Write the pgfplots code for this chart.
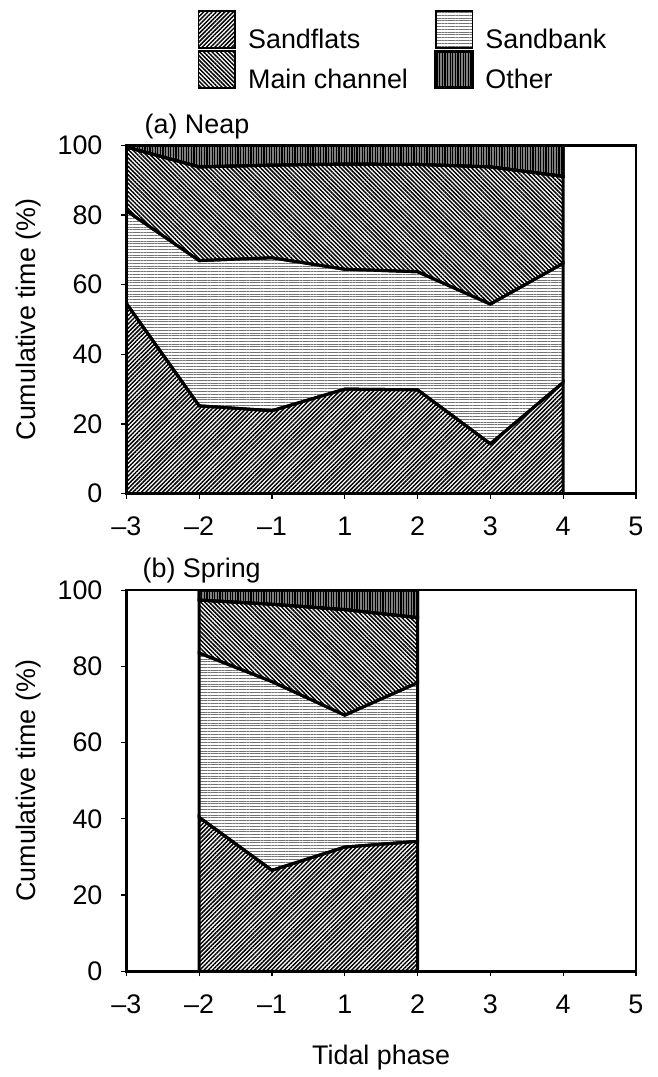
\documentclass[border=0pt]{standalone}
\usepackage{fontspec}
\setmainfont{Liberation Sans}
\usepackage{pgfplots}
\pgfplotsset{compat=1.18}
\usetikzlibrary{patterns.meta}

% phases -3..5 (no 0) are plotted at 0..7
\pgfplotsset{
  tidal/.style={
    width=256pt, scale only axis,
    xmin=0, xmax=7, ymin=0, ymax=100,
    xtick={0,...,7},
    xticklabels={\textendash3,\textendash2,\textendash1,1,2,3,4,5},
    ytick={0,20,...,100},
    tick align=outside, xtick pos=bottom, ytick pos=left,
    major tick length=2.5pt,
    every tick/.style={black, line width=0.6pt},
    axis line style={line width=1.3pt},
    /pgf/number format/assume math mode=true,
    xticklabel style={yshift=-5pt, text height=10pt, text depth=0pt},
    yticklabel style={xshift=-6pt},
    ylabel={Cumulative time (\%)},
    ylabel style={at={(axis description cs:-0.193,0.5)}, anchor=center},
    stack plots=y,
  },
  sandflats/.style={draw=black, line width=1.5pt,
    pattern={Lines[angle=45,distance=1.5pt,line width=0.75pt]}},
  sandbank/.style={draw=black, line width=1.5pt, pattern color=black!55,
    pattern={Lines[angle=0,distance=1.4pt,line width=0.45pt]}},
  channel/.style={draw=black, line width=1.5pt,
    pattern={Lines[angle=-45,distance=1.5pt,line width=0.75pt]}},
  other/.style={draw=black, line width=1.5pt, preaction={fill=black!50},
    pattern={Lines[angle=90,distance=1.3pt,line width=0.6pt]}},
}

\begin{document}
\begin{tikzpicture}[font=\fontsize{13.5}{16}\selectfont]

\begin{axis}[tidal, name=top, height=175pt, at={(0,240pt)},
  legend columns=2,
  legend cell align=left,
  legend style={at={(axis description cs:0.139,1.389)}, anchor=north west,
    draw=none, fill=none, inner sep=0pt, row sep=-2.5pt,
    /tikz/every odd column/.append style={column sep=4pt},
    /tikz/every even column/.append style={column sep=11.5pt}},
  legend image code/.code={\draw[#1, line width=0.9pt] (0pt,-4pt) rectangle (18.5pt,14.5pt);},
]
\addplot[sandflats] coordinates {(0,54.6) (1,25.2) (2,23.8) (3,30.0) (4,29.8) (5,14.3) (6,31.9)} \closedcycle;
\addplot[sandbank] coordinates {(0,26.6) (1,41.7) (2,43.9) (3,34.4) (4,33.9) (5,40.1) (6,34.2)} \closedcycle;
\addplot[channel] coordinates {(0,18.3) (1,26.9) (2,26.6) (3,30.2) (4,30.8) (5,39.4) (6,25.0)} \closedcycle;
\addplot[other] coordinates {(0,0.5) (1,6.2) (2,5.7) (3,5.4) (4,5.5) (5,6.2) (6,8.9)} \closedcycle;
\legend{Sandflats, Sandbank, Main channel, Other}
\end{axis}

\begin{axis}[tidal, name=bot, height=191.5pt, at={(0,0)},
  xlabel={Tidal phase},
  xlabel style={at={(axis description cs:0.5,-0.227)}, anchor=center},
]
\addplot[sandflats] coordinates {(1,40.4) (2,26.5) (3,32.6) (4,34.1)} \closedcycle;
\addplot[sandbank] coordinates {(1,43.1) (2,49.5) (3,34.6) (4,41.6)} \closedcycle;
\addplot[channel] coordinates {(1,13.9) (2,20.3) (3,27.7) (4,17.1)} \closedcycle;
\addplot[other] coordinates {(1,2.6) (2,3.7) (3,5.1) (4,7.2)} \closedcycle;
\end{axis}

\node[anchor=west, inner sep=0pt] at ([xshift=9pt,yshift=9.5pt]top.north west) {(a) Neap};
\node[anchor=west, inner sep=0pt] at ([xshift=8pt,yshift=10pt]bot.north west) {(b) Spring};

\path (-63.5pt,-50.5pt) rectangle (267pt,488pt);
\end{tikzpicture}
\end{document}
